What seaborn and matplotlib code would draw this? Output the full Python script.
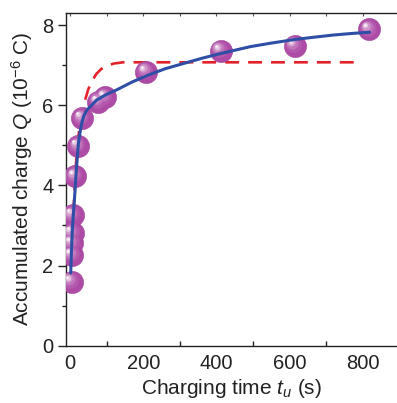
import numpy as np
import pandas as pd
import matplotlib
matplotlib.use("Agg")
import matplotlib.pyplot as plt
import matplotlib.transforms as mtransforms
from matplotlib.colors import to_rgb
import seaborn as sns

# ---- data ----
t_points = [5, 6, 6, 7, 8, 14, 22, 33, 77, 96, 208, 412, 614, 817]
q_points = [1.59, 2.26, 2.56, 2.81, 3.26, 4.23, 4.98, 5.68, 6.08, 6.20, 6.83, 7.36, 7.48, 7.89]

t_fit = [2, 4, 6, 9, 12, 15, 18, 23, 28, 32, 38, 46, 55, 73, 100, 127, 170, 219,
         260, 310, 360, 412, 492, 550, 615, 670, 719, 770, 818]
q_fit = [1.81, 2.35, 2.81, 3.25, 3.63, 4.05, 4.46, 5.05, 5.35, 5.55, 5.74, 5.88, 5.96,
         6.13, 6.27, 6.38, 6.58, 6.77, 6.91, 7.04, 7.17, 7.29, 7.46, 7.55, 7.64, 7.70,
         7.75, 7.79, 7.82]

t_sat = [9, 12, 16, 21, 27, 34, 42, 50, 60, 72, 85, 100, 120, 145, 779]
q_sat = [3.3, 3.8, 4.5, 5.1, 5.5, 5.85, 6.15, 6.4, 6.6, 6.78, 6.9, 6.98, 7.04, 7.07, 7.07]

x_ticks = [0, 200, 400, 600, 800]
y_ticks = [0, 2, 4, 6, 8]

sns.set_theme(style="white")
plt.rcParams["font.family"] = ["Liberation Sans", "DejaVu Sans"]
plt.rcParams["mathtext.fontset"] = "custom"
plt.rcParams["mathtext.it"] = "Liberation Sans:italic"
plt.rcParams["mathtext.rm"] = "Liberation Sans"
plt.rcParams["lines.scale_dashes"] = False

W, H = 397, 403
fig = plt.figure(figsize=(W / 100, H / 100), dpi=100)
ax = fig.add_axes([66 / W, (H - 345.7) / H, (W - 66) / W, (345.7 - 13) / H])

df_pts = pd.DataFrame({"t": t_points, "Q": q_points})
df_fit = pd.DataFrame({"t": t_fit, "Q": q_fit})
df_sat = pd.DataFrame({"t": t_sat, "Q": q_sat})

# red dashed saturation curve (behind the points)
sns.lineplot(data=df_sat, x="t", y="Q", ax=ax, sort=False, estimator=None,
             color="#E3212B", lw=1.9, zorder=2)
ax.lines[-1].set_dashes((10, 6.5))

# spheres: base + shading layers
S = 255
base = "#AE4BA6"
sns.scatterplot(data=df_pts, x="t", y="Q", ax=ax, s=S, color=base,
                edgecolor="#9E4298", linewidth=0.4, zorder=3, legend=False)
base_rgb = np.array(to_rgb(base))
white = np.array([1.0, 1.0, 1.0])
layers = [(0.75, 0.08, 1.2), (0.55, 0.22, 1.8), (0.38, 0.42, 2.5),
          (0.22, 0.70, 3.0), (0.10, 0.97, 3.3)]
for frac, mix, off in layers:
    col = base_rgb * (1 - mix) + white * mix
    tr = mtransforms.offset_copy(ax.transData, fig=fig, x=-off, y=off, units="points")
    ax.scatter(t_points, q_points, s=S * frac ** 2, color=col,
               linewidths=0, zorder=3.1, transform=tr)

# blue fitted curve (on top)
sns.lineplot(data=df_fit, x="t", y="Q", ax=ax, sort=False, estimator=None,
             color="#2F4EA6", lw=2.2, zorder=4)

ax.set_xlim(-10.9, 893)
ax.set_ylim(0, 8.3)
ax.set_xticks(x_ticks)
ax.set_yticks(y_ticks)
ax.set_xticks([100, 300, 500, 700], minor=True)
ax.set_yticks([1, 3, 5, 7], minor=True)

for side in ["left", "bottom", "top"]:
    ax.spines[side].set_visible(True)
    ax.spines[side].set_color("#222222")
    ax.spines[side].set_linewidth(1.0)
ax.spines["right"].set_visible(False)

ax.tick_params(axis="x", which="major", direction="in", length=7, width=1.0,
               color="#222222", labelsize=14.5, pad=6, top=False)
ax.tick_params(axis="x", which="minor", direction="in", length=3.5, width=1.0,
               color="#222222", bottom=True, top=False)
ax.tick_params(axis="y", which="major", direction="out", length=6, width=1.0,
               color="#222222", labelsize=14.5, pad=3, left=True)
ax.tick_params(axis="y", which="minor", direction="out", length=3, width=1.0,
               color="#222222", left=True)

# small inward ticks on the top spine
secx = ax.secondary_xaxis("top")
secx.set_xticks([0, 100, 200, 300, 400, 500, 600, 700, 800, 900])
secx.tick_params(direction="in", length=2.5, width=0.8, color="#555555", labeltop=False)
secx.spines["top"].set_visible(False)

ax.set_xlabel(r"Charging time $t_{u}$ (s)", fontsize=15, color="#222222", labelpad=3)
ax.set_ylabel(r"Accumulated charge $Q$ (10$^{-6}$ C)", fontsize=15, color="#222222",
              labelpad=5)
for lab in ax.get_xticklabels() + ax.get_yticklabels():
    lab.set_color("#222222")

fig.savefig("out.png", dpi=100)
